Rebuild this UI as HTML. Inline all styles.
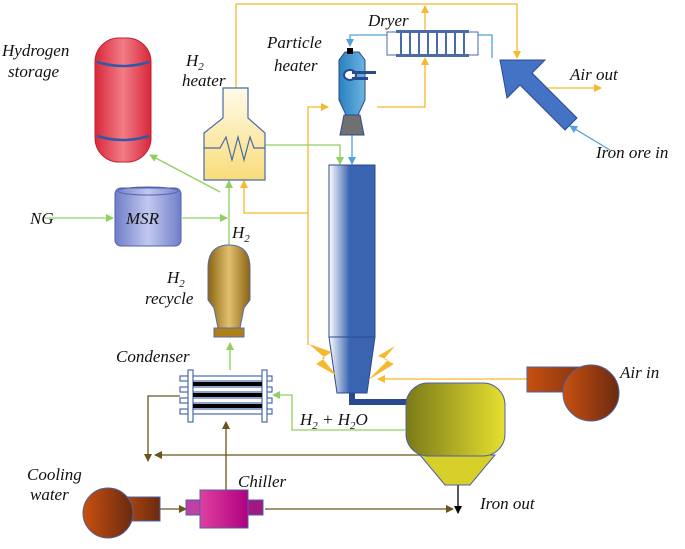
<!DOCTYPE html>
<html><head><style>body{margin:0;background:#fff}text{font-family:"Liberation Serif",serif;font-style:italic;font-size:17px;fill:#111}</style></head><body>
<svg width="685" height="544" viewBox="0 0 685 544" xmlns="http://www.w3.org/2000/svg">
<defs>
<marker id="ay" markerWidth="8" markerHeight="8" refX="7" refY="4" orient="auto" markerUnits="userSpaceOnUse"><path d="M0,0 L8,4 L0,8z" fill="#f5b82e"/></marker>
<marker id="ag" markerWidth="8" markerHeight="8" refX="7" refY="4" orient="auto" markerUnits="userSpaceOnUse"><path d="M0,0 L8,4 L0,8z" fill="#8fd061"/></marker>
<marker id="ab" markerWidth="8" markerHeight="8" refX="7" refY="4" orient="auto" markerUnits="userSpaceOnUse"><path d="M0,0 L8,4 L0,8z" fill="#4fa3d8"/></marker>
<marker id="an" markerWidth="8" markerHeight="8" refX="7" refY="4" orient="auto" markerUnits="userSpaceOnUse"><path d="M0,0 L8,4 L0,8z" fill="#6b5418"/></marker>
<marker id="ak" markerWidth="8" markerHeight="8" refX="7" refY="4" orient="auto" markerUnits="userSpaceOnUse"><path d="M0,0 L8,4 L0,8z" fill="#000"/></marker>
<linearGradient id="red" x1="0" x2="1"><stop offset="0" stop-color="#d8283a"/><stop offset=".5" stop-color="#f27c86"/><stop offset="1" stop-color="#d8283a"/></linearGradient>
<linearGradient id="yel" x1="0" y1="0" x2="0" y2="1"><stop offset="0" stop-color="#fffbe8"/><stop offset="1" stop-color="#f9dc7a"/></linearGradient>
<linearGradient id="msr" x1="0" x2="1"><stop offset="0" stop-color="#6f7fc8"/><stop offset=".5" stop-color="#c2c8ee"/><stop offset="1" stop-color="#6f7fc8"/></linearGradient>
<linearGradient id="gold" x1="0" x2="1"><stop offset="0" stop-color="#8a6410"/><stop offset=".5" stop-color="#e0c070"/><stop offset="1" stop-color="#8a6410"/></linearGradient>
<linearGradient id="col" x1="0" x2="1"><stop offset="0" stop-color="#fff"/><stop offset=".45" stop-color="#3a64b0"/><stop offset="1" stop-color="#3a64b0"/></linearGradient>
<linearGradient id="olv" x1="0" x2="1"><stop offset="0" stop-color="#7a7a18"/><stop offset="1" stop-color="#e6e030"/></linearGradient>
<linearGradient id="brn" x1="0" x2="1"><stop offset="0" stop-color="#c85010"/><stop offset="1" stop-color="#6a2a10"/></linearGradient>
<linearGradient id="mag" x1="0" x2="1"><stop offset="0" stop-color="#e040a0"/><stop offset="1" stop-color="#b00080"/></linearGradient>
<linearGradient id="ph" x1="0" x2="1"><stop offset="0" stop-color="#2a80c0"/><stop offset="1" stop-color="#6cb4e0"/></linearGradient>
</defs>
<g fill="none" stroke-width="1.3">
<polyline points="236,88 236,4 517,4 517,58" stroke="#f5b82e" marker-end="url(#ay)"/>
<line x1="425" y1="32" x2="425" y2="6" stroke="#f5b82e" marker-end="url(#ay)"/>
<polyline points="377,107 425,107 425,58" stroke="#f5b82e" marker-end="url(#ay)"/>
<polyline points="308,345 308,107 328,107" stroke="#f5b82e" marker-end="url(#ay)"/>
<polyline points="308,213 244,213 244,181" stroke="#f5b82e" marker-end="url(#ay)"/>
<line x1="527" y1="379" x2="378" y2="379" stroke="#f5b82e" marker-end="url(#ay)"/>
<line x1="545" y1="88" x2="601" y2="88" stroke="#f5b82e" marker-end="url(#ay)"/>
<polyline points="265,145 340,145 340,164" stroke="#8fd061" marker-end="url(#ag)"/>
<line x1="45" y1="218" x2="113" y2="218" stroke="#8fd061" marker-end="url(#ag)"/>
<line x1="182" y1="218" x2="227" y2="218" stroke="#8fd061" marker-end="url(#ag)"/>
<line x1="229" y1="245" x2="229" y2="181" stroke="#8fd061" marker-end="url(#ag)"/>
<line x1="220" y1="192" x2="150" y2="155" stroke="#8fd061" marker-end="url(#ag)"/>
<line x1="230" y1="370" x2="230" y2="343" stroke="#8fd061" marker-end="url(#ag)"/>
<polyline points="405,430 292,430 292,395 273,395" stroke="#8fd061" marker-end="url(#ag)"/>
<polyline points="388,35 350,35 350,46" stroke="#4fa3d8" marker-end="url(#ab)"/>
<polyline points="478,35 492,35 492,58" stroke="#4fa3d8"/>
<line x1="352" y1="135" x2="352" y2="164" stroke="#4fa3d8" marker-end="url(#ab)"/>
<line x1="610" y1="150" x2="570" y2="126" stroke="#4fa3d8" marker-end="url(#ab)"/>
<polyline points="180,396 148,396 148,461" stroke="#6b5418" marker-end="url(#an)"/>
<line x1="420" y1="455" x2="155" y2="455" stroke="#6b5418" marker-end="url(#an)"/>
<line x1="226" y1="490" x2="226" y2="422" stroke="#6b5418" marker-end="url(#an)"/>
<line x1="160" y1="509" x2="186" y2="509" stroke="#6b5418" marker-end="url(#an)"/>
<line x1="265" y1="509" x2="453" y2="509" stroke="#6b5418" marker-end="url(#an)"/>
<line x1="458" y1="485" x2="458" y2="513" stroke="#000" marker-end="url(#ak)"/>
</g>
<rect x="95" y="38" width="56" height="124" rx="24" fill="url(#red)" stroke="#c02030"/>
<path d="M97,62 Q123,70 149,62 M97,136 Q123,144 149,136" stroke="#2a5aa8" stroke-width="2.5" fill="none"/>
<path d="M223,88 H248 V118 L265,133 V180 H204 V133 L223,118Z" fill="url(#yel)" stroke="#4a6aa8" stroke-width="1.2"/>
<path d="M204,148 H220 L226,137 L232,160 L238,137 L244,160 L250,137 L254,148 H265" fill="none" stroke="#4a6aa8" stroke-width="1.2"/>
<rect x="115" y="188" width="66" height="58" rx="6" fill="url(#msr)" stroke="#5060b0"/>
<ellipse cx="148" cy="191" rx="30" ry="4" fill="none" stroke="#5060b0"/>
<path d="M208,268 Q208,245 229,245 Q250,245 250,268 V300 L244,308 L240,328 H218 L214,308 L208,300Z" fill="url(#gold)" stroke="#5a6aa8"/>
<rect x="214" y="328" width="30" height="9" fill="#b08018" stroke="#5a6aa8"/>
<g stroke="#4a6aa8" fill="#fff" stroke-width="1.2">
<rect x="180" y="376" width="92" height="5"/><rect x="180" y="387" width="92" height="5"/><rect x="180" y="398" width="92" height="5"/><rect x="180" y="409" width="92" height="5"/>
<rect x="188" y="370" width="5" height="52"/><rect x="262" y="370" width="5" height="52"/>
</g>
<rect x="193" y="382" width="69" height="4" fill="#000"/><rect x="193" y="393" width="69" height="4" fill="#000"/><rect x="193" y="404" width="69" height="4" fill="#000"/>
<rect x="329" y="165" width="46" height="172" fill="url(#col)" stroke="#2a4a90"/>
<path d="M329,337 H375 L367,393 H337Z" fill="url(#col)" stroke="#2a4a90"/>
<path d="M352,393 V402 H410" fill="none" stroke="#2a4a90" stroke-width="6"/>
<path d="M309,344 L332,352 L322,358 L337,376 L316,364 L325,358Z" fill="#f5b82e"/>
<path d="M395,346 L378,356 L388,360 L368,380 L394,364 L384,359Z" fill="#f5b82e"/>
<path d="M420,455 L445,485 H470 L495,455Z" fill="#d8d02a" stroke="#5060a0"/>
<rect x="406" y="383" width="99" height="73" rx="22" fill="url(#olv)" stroke="#5060a0"/>
<rect x="527" y="367" width="75" height="25" fill="url(#brn)" stroke="#5060a0"/>
<circle cx="591" cy="393" r="28" fill="url(#brn)" stroke="#5060a0"/>
<rect x="113" y="497" width="47" height="24" fill="url(#brn)" stroke="#5060a0"/>
<circle cx="108" cy="513" r="25" fill="url(#brn)" stroke="#5060a0"/>
<rect x="186" y="500" width="15" height="15" fill="#c040a8" stroke="#5060a0"/>
<rect x="248" y="500" width="15" height="15" fill="#a01880" stroke="#5060a0"/>
<rect x="200" y="490" width="48" height="38" fill="url(#mag)" stroke="#5060a0"/>
<path d="M340,135 L344,115 H360 L364,135Z" fill="#707070" stroke="#2a4a90"/>
<path d="M345,52 H359 L365,60 V100 L358,115 H346 L339,100 V60Z" fill="url(#ph)" stroke="#2a4a90"/>
<rect x="347" y="48" width="6" height="6" fill="#000"/>
<ellipse cx="350" cy="75" rx="6" ry="5" fill="#fff" stroke="#2a4a90" stroke-width="2"/>
<rect x="352" y="71" width="24" height="3" fill="#2a4a90"/><rect x="352" y="77" width="16" height="3" fill="#2a4a90"/>
<rect x="387" y="32" width="91" height="23" fill="#fff" stroke="#4a6aa8"/>
<rect x="396" y="30" width="73" height="3" fill="#4a6aa8"/><rect x="396" y="54" width="73" height="3" fill="#4a6aa8"/>
<g stroke="#4a6aa8" stroke-width="2"><line x1="401" y1="32" x2="401" y2="55"/><line x1="410" y1="32" x2="410" y2="55"/><line x1="419" y1="32" x2="419" y2="55"/><line x1="428" y1="32" x2="428" y2="55"/><line x1="437" y1="32" x2="437" y2="55"/><line x1="446" y1="32" x2="446" y2="55"/><line x1="455" y1="32" x2="455" y2="55"/><line x1="464" y1="32" x2="464" y2="55"/></g>
<path d="M500,60 L545,60 L532,73 L577,118 L565,130 L520,85 L507,98Z" fill="#4472c4" stroke="#2a4a90"/>
<text x="2" y="56">Hydrogen</text><text x="8" y="77">storage</text>
<text x="186" y="66">H<tspan font-size="11" dy="4">2</tspan></text><text x="182" y="86">heater</text>
<text x="267" y="48">Particle</text><text x="274" y="71">heater</text>
<text x="368" y="26">Dryer</text>
<text x="570" y="80">Air out</text>
<text x="596" y="158">Iron ore in</text>
<text x="30" y="224">NG</text>
<text x="126" y="224">MSR</text>
<text x="232" y="238">H<tspan font-size="11" dy="4">2</tspan></text>
<text x="167" y="283">H<tspan font-size="11" dy="4">2</tspan></text><text x="145" y="304">recycle</text>
<text x="116" y="362">Condenser</text>
<text x="300" y="425">H<tspan font-size="11" dy="4">2</tspan><tspan dy="-4"> + H</tspan><tspan font-size="11" dy="4">2</tspan><tspan dy="-4">O</tspan></text>
<text x="620" y="378">Air in</text>
<text x="27" y="480">Cooling</text><text x="30" y="500">water</text>
<text x="238" y="487">Chiller</text>
<text x="480" y="509">Iron out</text>
</svg>
</body></html>
